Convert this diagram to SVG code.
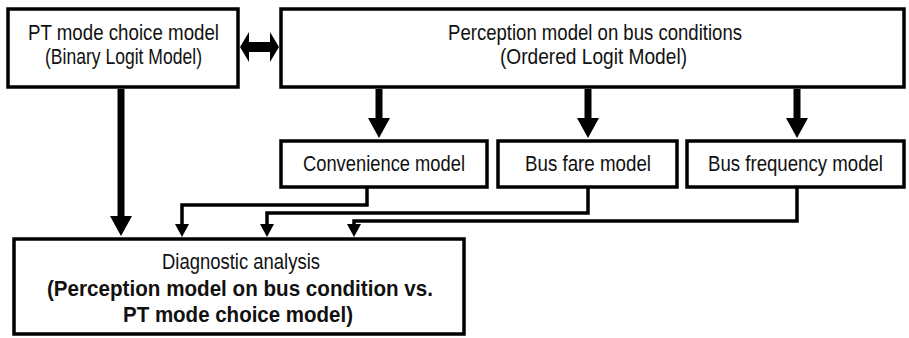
<svg xmlns="http://www.w3.org/2000/svg" width="909" height="338" viewBox="0 0 909 338">
<style>
.box{fill:#fff;stroke:#000;stroke-width:3.5}
.t{font-family:"Liberation Sans Narrow","Liberation Sans",Arial,sans-serif;font-size:22.5px;fill:#111;text-anchor:middle}
.b{font-weight:bold}
.thick{fill:none;stroke:#000;stroke-width:7}
.thin{fill:none;stroke:#000;stroke-width:3.5}
</style>
<defs>
<marker id="hb" markerUnits="userSpaceOnUse" viewBox="0 0 20 22" refX="0" refY="11" markerWidth="20" markerHeight="22" orient="auto">
<path d="M0,0 L20,11 L0,22 Z" fill="#000"/>
</marker>
<marker id="hs" markerUnits="userSpaceOnUse" viewBox="0 0 13 14" refX="0" refY="7" markerWidth="13" markerHeight="14" orient="auto">
<path d="M0,0 L13,7 L0,14 Z" fill="#000"/>
</marker>
</defs>
<g id="connectors">
<polygon points="240,47 249,32 249,42 270,42 270,32 279,47 270,62 270,52 249,52 249,62" fill="#000"/>
<path class="thick" d="M121,89 V216" marker-end="url(#hb)"/>
<path class="thick" d="M379,89 V118" marker-end="url(#hb)"/>
<path class="thick" d="M588,89 V118" marker-end="url(#hb)"/>
<path class="thick" d="M797,89 V118" marker-end="url(#hb)"/>
<path class="thin" d="M367,188 V205 H182 V224" marker-end="url(#hs)"/>
<path class="thin" d="M588,188 V213 H267 V224" marker-end="url(#hs)"/>
<path class="thin" d="M797,188 V221 H354 V224" marker-end="url(#hs)"/>
</g>
<g id="pt-mode">
<rect class="box" x="8" y="9" width="230" height="78"/>
<text class="t" x="123.5" y="40" textLength="191" lengthAdjust="spacingAndGlyphs">PT mode choice model</text>
<text class="t" x="123.5" y="64" textLength="157" lengthAdjust="spacingAndGlyphs">(Binary Logit Model)</text>
</g>
<g id="perception">
<rect class="box" x="281" y="9" width="623" height="78"/>
<text class="t" x="595" y="40" textLength="294" lengthAdjust="spacingAndGlyphs">Perception model on bus conditions</text>
<text class="t" x="593.5" y="64" textLength="187" lengthAdjust="spacingAndGlyphs">(Ordered Logit Model)</text>
</g>
<g id="convenience">
<rect class="box" x="281" y="141" width="206" height="46"/>
<text class="t" x="384" y="171" textLength="162" lengthAdjust="spacingAndGlyphs">Convenience model</text>
</g>
<g id="bus-fare">
<rect class="box" x="498" y="141" width="179" height="46"/>
<text class="t" x="588" y="171" textLength="126" lengthAdjust="spacingAndGlyphs">Bus fare model</text>
</g>
<g id="bus-frequency">
<rect class="box" x="687" y="141" width="217" height="46"/>
<text class="t" x="795.5" y="171" textLength="175" lengthAdjust="spacingAndGlyphs">Bus frequency model</text>
</g>
<g id="diagnostic">
<rect class="box" x="14" y="239" width="450" height="95"/>
<text class="t" x="241" y="269" textLength="158" lengthAdjust="spacingAndGlyphs">Diagnostic analysis</text>
<text class="t b" x="240" y="296" textLength="386" lengthAdjust="spacingAndGlyphs">(Perception model on bus condition vs.</text>
<text class="t b" x="238" y="322" textLength="230" lengthAdjust="spacingAndGlyphs">PT mode choice model)</text>
</g>
</svg>
